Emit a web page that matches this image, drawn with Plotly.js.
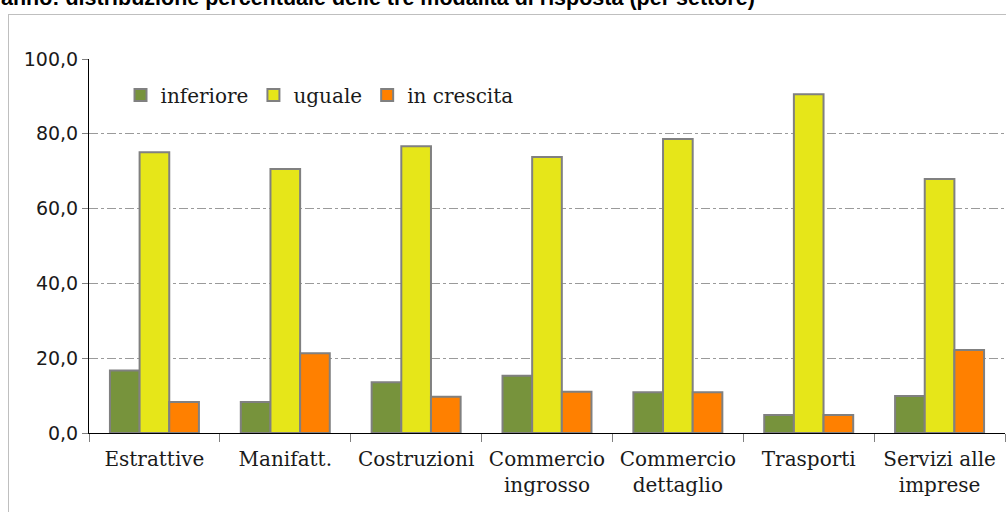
<!DOCTYPE html>
<html><head><meta charset="utf-8">
<script src="https://cdn.plot.ly/plotly-3.0.1.min.js"></script>
<style>
html,body{margin:0;padding:0;background:#fff;overflow:hidden}
#frame{position:absolute;left:8px;top:14px;width:1000px;height:510px;border:1px solid #bfbfbf;box-sizing:border-box;pointer-events:none}
#chart{position:absolute;left:0;top:0;width:1006px;height:512px}
</style>
</head><body>
<div id="chart"></div>
<div id="frame"></div>
<script>
const categories = ["Estrattive", "Manifatt.", "Costruzioni", "Commercio<br>ingrosso", "Commercio<br>dettaglio", "Trasporti", "Servizi alle<br>imprese"];
const inferiore = [16.7, 8.3, 13.6, 15.3, 10.9, 4.8, 9.9];
const uguale = [75.1, 70.6, 76.7, 73.8, 78.6, 90.6, 67.9];
const inCrescita = [8.3, 21.3, 9.7, 11.0, 10.9, 4.8, 22.2];
const titleText = 'anno: distribuzione percentuale delle tre modalità di risposta (per settore)';

const border = {color: '#808080', width: 2};
const traces = [
  {type:'bar', name:'inferiore', x:categories, y:inferiore, marker:{color:'#77933C', line:border}},
  {type:'bar', name:'uguale', x:categories, y:uguale, marker:{color:'#E6E619', line:border}},
  {type:'bar', name:'in crescita', x:categories, y:inCrescita, marker:{color:'#FF8000', line:border}}
];
const labelFont = {family:'DejaVu Serif, serif', size:20, color:'#1a1a1a'};
const numFont = {family:'DejaVu Sans, sans-serif', size:19, color:'#1a1a1a'};
const layout = {
  width:1006, height:512,
  margin:{l:89, r:1, t:59, b:79},
  paper_bgcolor:'rgba(0,0,0,0)', plot_bgcolor:'rgba(0,0,0,0)',
  separators:',.',
  font:labelFont,
  bargap:0.32, bargroupgap:0,
  annotations:[{text:'<b>' + titleText + '</b>', showarrow:false,
    font:{family:'Liberation Sans, Arial, sans-serif', size:21.5, color:'#000'},
    xref:'paper', yref:'paper', x:-0.0972, xanchor:'left', y:1 + 61/374, yanchor:'middle', borderpad:0}],
  showlegend:true,
  legend:{orientation:'h', x:0.0344, y:0.904, xanchor:'left', yanchor:'middle', font:labelFont,
    bgcolor:'rgba(0,0,0,0)', itemwidth:30, tracegroupgap:0, traceorder:'normal'},
  xaxis:{type:'category', showline:true, linecolor:'#000', linewidth:1,
    ticks:'outside', tickson:'boundaries', ticklen:8, tickcolor:'#808080', ticklabelstandoff:8,
    showgrid:false, tickfont:labelFont, automargin:false},
  yaxis:{range:[0,100], dtick:20, tickformat:'.1f', showline:true, linecolor:'#000', linewidth:1,
    ticks:'outside', ticklen:6, tickcolor:'#808080', showgrid:true, gridcolor:'#9a9a9a',
    griddash:'dashdot', gridwidth:1, zeroline:false, tickfont:numFont, automargin:false}
};
Plotly.newPlot('chart', traces, layout, {displayModeBar:false, staticPlot:true});
</script>
</body></html>
